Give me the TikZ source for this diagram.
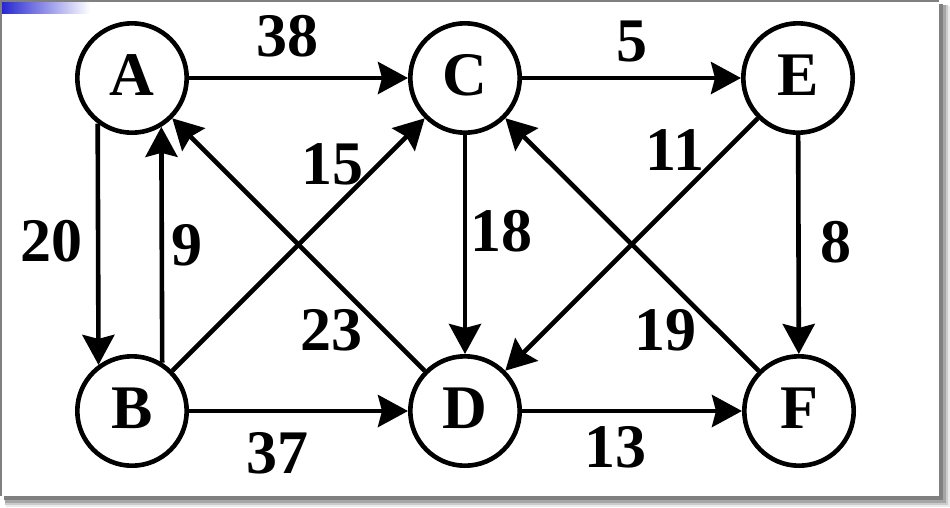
\documentclass[tikz,border=0pt]{standalone}
\usepackage{fontspec}
\setmainfont{Liberation Serif}
\usetikzlibrary{arrows.meta}
\definecolor{gradblue}{RGB}{40,40,210}
\definecolor{framegray}{RGB}{128,128,128}
\begin{document}
\begin{tikzpicture}[x=1pt,y=-1pt,
  vertex/.style={circle, draw, line width=4.6pt, minimum size=109.4pt, inner sep=0pt,
    font=\fontsize{62}{62}\selectfont\bfseries, text height=42pt, text depth=8pt},
  lbl/.style={inner sep=0pt, font=\fontsize{62}{62}\selectfont\bfseries},
  edge/.style={line width=4.6pt, -{Stealth[length=30pt,width=32pt,inset=4pt]}}]
\useasboundingbox (0,0) rectangle (950,507);
% frame with shadow
\fill[black!8] (6,6) rectangle (950,507);
\fill[black!20] (5,5) rectangle (948,505);
\fill[black!35] (5,5) rectangle (946,503);
\fill[black!50] (4,4) rectangle (943,500);
\fill[white] (2,2) rectangle (939,496);
\fill[framegray] (0,0) rectangle (939,2);
\fill[framegray] (0,0) rectangle (2,496);
\shade[left color=gradblue, right color=white] (2,2) rectangle (90,13);
% nodes
\node[vertex] (A) at (132,78) {A};
\node[vertex] (C) at (465,78) {C};
\node[vertex] (E) at (798,78) {E};
\node[vertex] (B) at (132,411) {B};
\node[vertex] (D) at (465,411) {D};
\node[vertex] (F) at (799,411) {F};
% edges
\draw[edge] (A) -- (C);
\draw[edge] (C) -- (E);
\draw[edge] (A.233.6) -- (B.126.4);
\draw[edge] (B.58.4) -- (A.301.6);
\draw[edge] (B) -- (C);
\draw[edge] (D) -- (A);
\draw[edge] (C) -- (D);
\draw[edge] (E) -- (D);
\draw[edge] (F) -- (C);
\draw[edge] (E) -- (F);
\draw[edge] (B) -- (D);
\draw[edge] (D) -- (F);
% labels
\node[lbl] (l38) at (287,36) {38};
\node[lbl] (l5) at (632,41) {5};
\node[lbl] (l20) at (51,241) {20};
\node[lbl] (l9) at (187,245) {9};
\node[lbl] (l15) at (332,164) {15};
\node[lbl] (l23) at (331,330) {23};
\node[lbl] (l18) at (501,231) {18};
\node[lbl] (l11) at (675,150) {11};
\node[lbl] (l8) at (836,242) {8};
\node[lbl] (l19) at (665,330) {19};
\node[lbl] (l37) at (277,453) {37};
\node[lbl] (l13) at (615,447) {13};
\end{tikzpicture}
\end{document}
